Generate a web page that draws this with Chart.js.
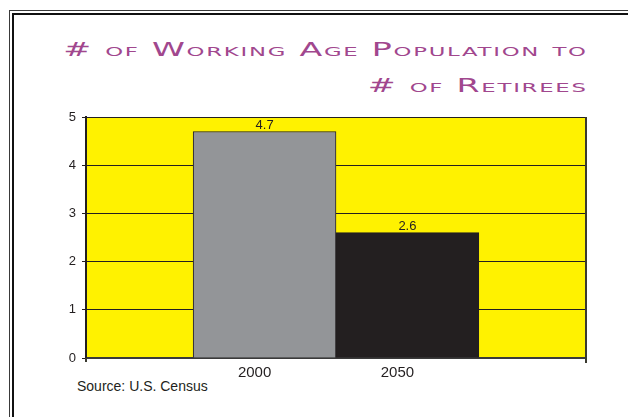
<!DOCTYPE html>
<html>
<head>
<meta charset="utf-8">
<script src="https://cdn.jsdelivr.net/npm/chart.js@4/dist/chart.umd.min.js"></script>
<style>
  html, body { margin: 0; padding: 0; background: #fff; }
  body { width: 628px; height: 417px; position: relative; overflow: hidden; }
  #frameOuter { position: absolute; left: 9px; top: 10px; width: 700px; height: 500px; border-left: 1px solid #3a3a3a; border-top: 1px solid #3a3a3a; }
  #frameInner { position: absolute; left: 12px; top: 13px; width: 700px; height: 500px; border-left: 2px solid #111; border-top: 2px solid #111; }
  .title { position: absolute; right: 40px; color: #a1478e; font-family: "DejaVu Sans", sans-serif; font-size: 19px; font-variant: small-caps; letter-spacing: 1px; white-space: nowrap; line-height: 1; transform: scaleX(1.75); transform-origin: right center; }
  #t1 { top: 40px; }
  #t2 { top: 76px; }
  #source { position: absolute; left: 77px; top: 378px; font-family: "Liberation Sans", Arial, sans-serif; font-size: 14px; color: #231f20; }
  #c { position: absolute; left: 0; top: 0; }
</style>
</head>
<body>
<div id="frameOuter"></div>
<div id="frameInner"></div>
<div class="title" id="t1"># of Working Age Population to</div>
<div class="title" id="t2"># of Retirees</div>
<div id="source">Source: U.S. Census</div>
<canvas id="c" width="628" height="417"></canvas>
<script>
const years = [2000, 2050];
const ratios = [4.7, 2.6];
const barColors = ['#939598', '#231f20'];
const yTicks = [0, 1, 2, 3, 4, 5];

const plotBg = {
  id: 'plotBg',
  beforeDraw(chart) {
    const {ctx, chartArea: a} = chart;
    ctx.save();
    ctx.fillStyle = '#fff200';
    ctx.fillRect(a.left, a.top, a.right - a.left, a.bottom - a.top);
    ctx.restore();
  },
  afterDatasetsDraw(chart) {
    const {ctx, chartArea: a} = chart;
    ctx.save();
    ctx.strokeStyle = '#3a3a30';
    ctx.lineWidth = 2;
    ctx.beginPath();
    ctx.moveTo(a.right, a.top);
    ctx.lineTo(a.right, a.bottom + 5);
    ctx.moveTo(a.left, a.bottom);
    ctx.lineTo(a.left, a.bottom + 4);
    ctx.stroke();
    const meta = chart.getDatasetMeta(0);
    ctx.fillStyle = '#231f20';
    ctx.font = '13px "Liberation Sans", Arial, sans-serif';
    ctx.textAlign = 'center';
    ctx.textBaseline = 'bottom';
    meta.data.forEach((bar, i) => {
      ctx.fillText(ratios[i].toFixed(1), bar.x, bar.y - 0);
    });
    ctx.restore();
  }
};

new Chart(document.getElementById('c'), {
  type: 'bar',
  data: {
    datasets: [{
      data: years.map((y, i) => ({x: y, y: ratios[i]})),
      backgroundColor: barColors,
      borderColor: '#231f20',
      borderWidth: 1,
      categoryPercentage: 1,
      barPercentage: 1
    }]
  },
  options: {
    responsive: false,
    animation: false,
    layout: { padding: { left: 0, right: 42, top: 117, bottom: 29 } },
    plugins: { legend: { display: false }, tooltip: { enabled: false }, title: { display: false } },
    scales: {
      x: {
        type: 'linear',
        offset: false,
        min: 1937.5,
        max: 2112.5,
        afterBuildTicks: s => { s.ticks = years.map(v => ({value: v})); },
        afterFit: s => { s.height = 30; },
        grid: { display: false, offset: false, drawTicks: false },
        border: { display: true, color: '#3a3a3a', width: 2 },
        ticks: {
          callback: v => String(v),
          color: '#231f20',
          font: { family: '"Liberation Sans", Arial, sans-serif', size: 15 },
          padding: 6,
          labelOffset: -10,
          maxRotation: 0,
          autoSkip: false
        }
      },
      y: {
        min: 0,
        max: 5,
        afterBuildTicks: s => { s.ticks = yTicks.map(v => ({value: v})); },
        afterFit: s => { s.width = 86; },
        grid: { color: '#231f20', lineWidth: 1, tickLength: 4, tickColor: '#231f20' },
        border: { display: true, color: '#231f20', width: 2 },
        ticks: {
          color: '#231f20',
          font: { family: '"Liberation Sans", Arial, sans-serif', size: 13 },
          padding: 6
        }
      }
    }
  },
  plugins: [plotBg]
});
</script>
</body>
</html>
